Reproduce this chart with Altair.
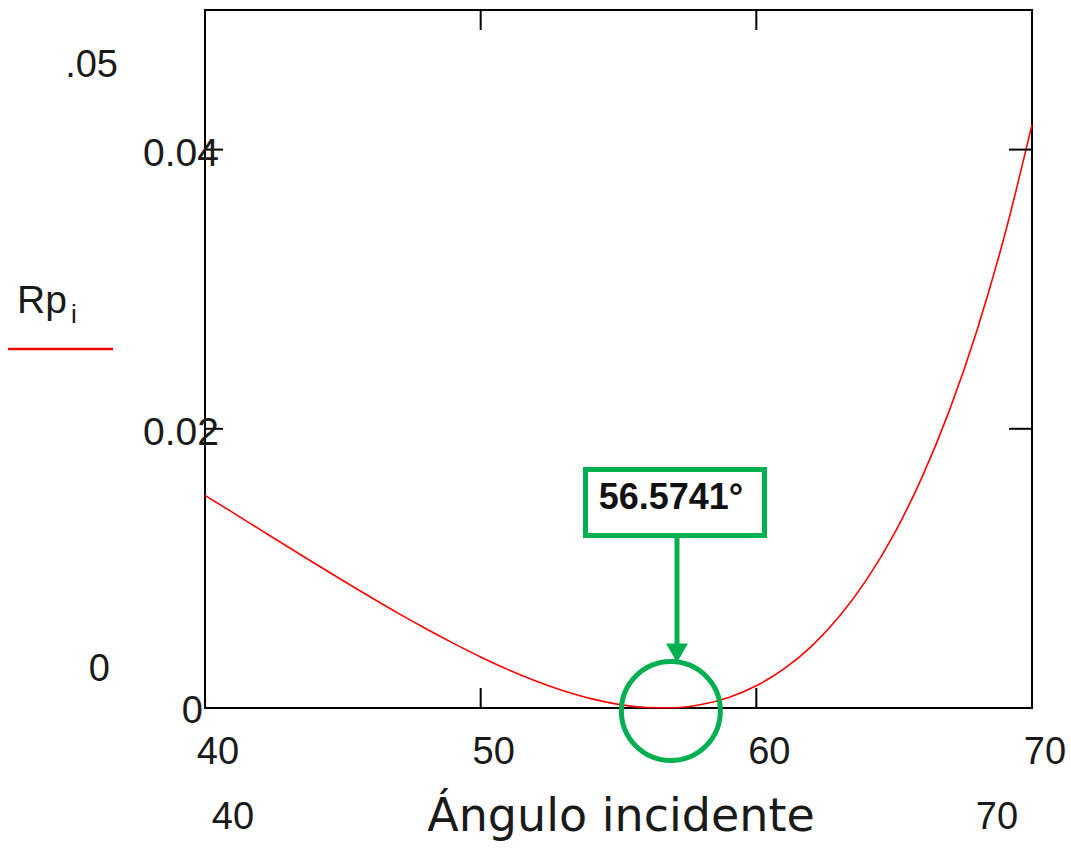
import altair as alt
import pandas as pd

# Curve values (angle in degrees, Rp)
angles = [40, 41, 42, 43, 44, 45, 46, 47, 48, 49, 50, 51, 52, 53, 54, 55,
          56, 57, 58, 59, 60, 61, 62, 63, 64, 65, 66, 67, 68, 69, 70]
rp = [0.01523, 0.01401, 0.01278, 0.01155, 0.01033, 0.00913, 0.00795, 0.00680,
      0.00570, 0.00465, 0.00366, 0.00275, 0.00194, 0.00124, 0.00067, 0.00026,
      0.00004, 0.00002, 0.00025, 0.00076, 0.00159, 0.00280, 0.00442, 0.00653,
      0.00920, 0.01248, 0.01648, 0.02130, 0.02703, 0.03381, 0.04179]

x_ticks = [50, 60]
x_tick_labels = [40, 50, 60, 70]
y_ticks = [0.02, 0.04]
y_tick_labels = ["0.02", "0.04"]
y_zero_label = ["0"]
annotation_text = "56.5741°"
brewster_angle = [56.9]

W, H = 827, 698
GREEN = "#00B050"
RED = "#FF0000"
TXT = "#1a1a1a"
FONT = "Liberation Sans"

xs = alt.Scale(domain=[40, 70], nice=False, zero=False)
ys = alt.Scale(domain=[0, 0.05], nice=False, zero=False)

curve_df = pd.DataFrame({"angle": angles, "rp": rp})

curve = alt.Chart(curve_df).mark_line(color=RED, strokeWidth=1.6, interpolate="monotone").encode(
    x=alt.X("angle:Q", scale=xs, axis=None),
    y=alt.Y("rp:Q", scale=ys, axis=None),
)

xt_df = pd.DataFrame({"v": x_ticks})
yt_df = pd.DataFrame({"v": y_ticks, "lab": y_tick_labels})

top_ticks = alt.Chart(xt_df).mark_rule(color="black", strokeWidth=2).encode(
    x=alt.X("v:Q", scale=xs, axis=None), y=alt.value(0), y2=alt.value(20))
bot_ticks = alt.Chart(xt_df).mark_rule(color="black", strokeWidth=2).encode(
    x=alt.X("v:Q", scale=xs, axis=None), y=alt.value(H), y2=alt.value(H - 20))
left_ticks = alt.Chart(yt_df).mark_rule(color="black", strokeWidth=2).encode(
    y=alt.Y("v:Q", scale=ys, axis=None), x=alt.value(0), x2=alt.value(18))
right_ticks = alt.Chart(yt_df).mark_rule(color="black", strokeWidth=2).encode(
    y=alt.Y("v:Q", scale=ys, axis=None), x=alt.value(W), x2=alt.value(W - 23))

xl_df = pd.DataFrame({"v": x_tick_labels, "lab": [str(v) for v in x_tick_labels]})
x_labels = alt.Chart(xl_df).mark_text(font=FONT, fontSize=38, color=TXT, align="center",
                                      baseline="alphabetic", dx=13).encode(
    x=alt.X("v:Q", scale=xs, axis=None), y=alt.value(754), text="lab:N")

y_labels = alt.Chart(yt_df).mark_text(font=FONT, fontSize=39, color=TXT, align="right",
                                      baseline="middle", dy=4).encode(
    y=alt.Y("v:Q", scale=ys, axis=None), x=alt.value(14), text="lab:N")

yz_df = pd.DataFrame({"v": [0.0], "lab": y_zero_label})
y_zero = alt.Chart(yz_df).mark_text(font=FONT, fontSize=38, color=TXT, align="right",
                                    baseline="middle", dy=4).encode(
    y=alt.Y("v:Q", scale=ys, axis=None), x=alt.value(-2), text="lab:N")


def label(txt, x, y, size=38, align="center", font=FONT, weight="normal", color=TXT):
    return alt.Chart(pd.DataFrame({"t": [txt]})).mark_text(
        font=font, fontSize=size, align=align, baseline="alphabetic",
        fontWeight=weight, color=color).encode(
        x=alt.value(x), y=alt.value(y), text="t:N")


lim_top = label(".05", -87, 67, align="right")
lim_bot = label("0", -95, 671, align="right")
lim_left = label("40", 28, 819)
lim_right = label("70", 792, 819)
x_title = label("Ángulo incidente", 416, 821, size=46, font="DejaVu Sans")
y_title = label("Rp", -188, 303, size=39, align="left")
y_sub = label("i", -134, 313, size=26, align="left")

one = pd.DataFrame({"a": [0]})
legend_line = alt.Chart(one).mark_rule(color=RED, strokeWidth=2.5).encode(
    x=alt.value(-197), x2=alt.value(-92), y=alt.value(339))

# annotation
box = alt.Chart(one).mark_rect(fill="white", stroke=GREEN, strokeWidth=5).encode(
    x=alt.value(380.5), x2=alt.value(559.5), y=alt.value(459.5), y2=alt.value(525.5))
box_text = label(annotation_text, 466, 499, size=36, weight="bold", color="#111111")
arrow_line = alt.Chart(one).mark_rule(color=GREEN, strokeWidth=5).encode(
    x=alt.value(472), y=alt.value(528), y2=alt.value(640))
arrow_head = alt.Chart(one).mark_point(shape="triangle-down", filled=True, color=GREEN,
                                       size=484, opacity=1).encode(
    x=alt.value(472), y=alt.value(643))
circ_df = pd.DataFrame({"angle": brewster_angle, "rp": [0.0]})
circle = alt.Chart(circ_df).mark_point(shape="circle", filled=False, color=GREEN,
                                       size=9800, strokeWidth=5, opacity=1).encode(
    x=alt.X("angle:Q", scale=xs, axis=None), y=alt.value(H + 3))

chart = alt.layer(
    curve, top_ticks, bot_ticks, left_ticks, right_ticks,
    x_labels, y_labels, y_zero,
    lim_top, lim_bot, lim_left, lim_right, x_title, y_title, y_sub, legend_line,
    box, box_text, arrow_line, arrow_head, circle,
).properties(
    width=W, height=H,
    autosize=alt.AutoSizeParams(type="none"),
    padding={"left": 205, "top": 10, "right": 39, "bottom": 141},
).configure_view(stroke="black", strokeWidth=2)

chart.save("out.html", embed_options={"renderer": "svg", "actions": False})
